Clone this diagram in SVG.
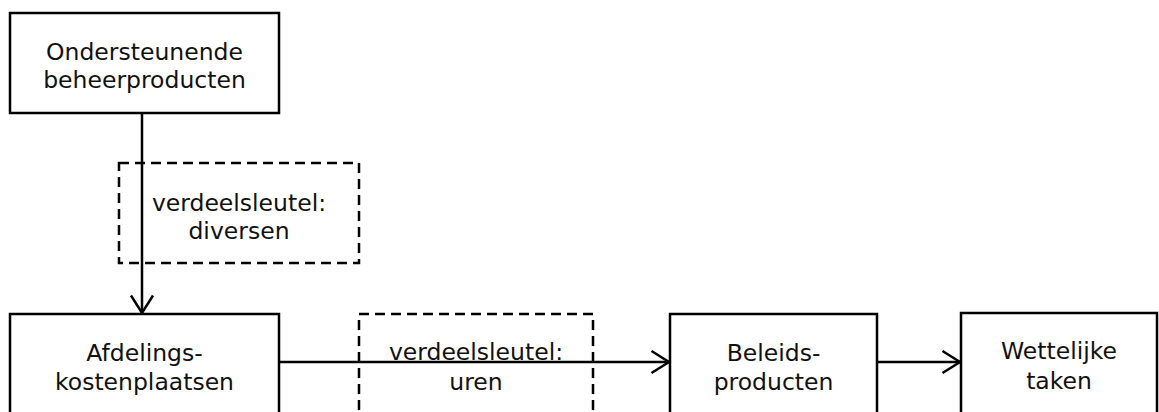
<svg xmlns="http://www.w3.org/2000/svg" width="1159" height="412" viewBox="0 0 1159 412">
<defs>
<marker id="arr" markerWidth="22" markerHeight="26" refX="19" refY="13" orient="auto" markerUnits="userSpaceOnUse">
<path d="M1.5,2 L19,13 L1.5,24" fill="none" stroke="#000" stroke-width="2.5"/>
</marker>
<style>
.node{fill:#fff;stroke:#000;stroke-width:2.5}
.lbl{fill:none;stroke:#000;stroke-width:2.5;stroke-dasharray:10 6}
.t{font-family:"DejaVu Sans",Verdana,sans-serif;font-size:23.5px;fill:#111;text-anchor:middle}
.c{stroke:#000;stroke-width:2.5;fill:none}
</style>
</defs>
<rect width="1159" height="412" fill="#fff"/>
<g id="label-diversen">
<rect class="lbl" x="119" y="163" width="240" height="100"/>
<text class="t" x="239" y="211">verdeelsleutel:</text>
<text class="t" x="239" y="239">diversen</text>
</g>
<g id="label-uren">
<rect class="lbl" x="359" y="314" width="234" height="110"/>
<text class="t" x="476" y="360">verdeelsleutel:</text>
<text class="t" x="476" y="390">uren</text>
</g>
<g id="connectors">
<line class="c" x1="142" y1="113" x2="142" y2="313" marker-end="url(#arr)"/>
<line class="c" x1="279" y1="362" x2="669" y2="362" marker-end="url(#arr)"/>
<line class="c" x1="877" y1="362" x2="960" y2="362" marker-end="url(#arr)"/>
</g>
<g id="ondersteunende">
<rect class="node" x="10" y="13" width="269" height="100"/>
<text class="t" x="144.5" y="59.5">Ondersteunende</text>
<text class="t" x="144.5" y="87.5">beheerproducten</text>
</g>
<g id="afdelings">
<rect class="node" x="10" y="314" width="269" height="110"/>
<text class="t" x="144.5" y="361">Afdelings-</text>
<text class="t" x="144.5" y="390">kostenplaatsen</text>
</g>
<g id="beleids">
<rect class="node" x="670" y="314" width="207" height="110"/>
<text class="t" x="773.5" y="361">Beleids-</text>
<text class="t" x="773.5" y="390">producten</text>
</g>
<g id="wettelijke">
<rect class="node" x="961" y="313" width="196" height="110"/>
<text class="t" x="1059" y="359">Wettelijke</text>
<text class="t" x="1059" y="389">taken</text>
</g>
</svg>
